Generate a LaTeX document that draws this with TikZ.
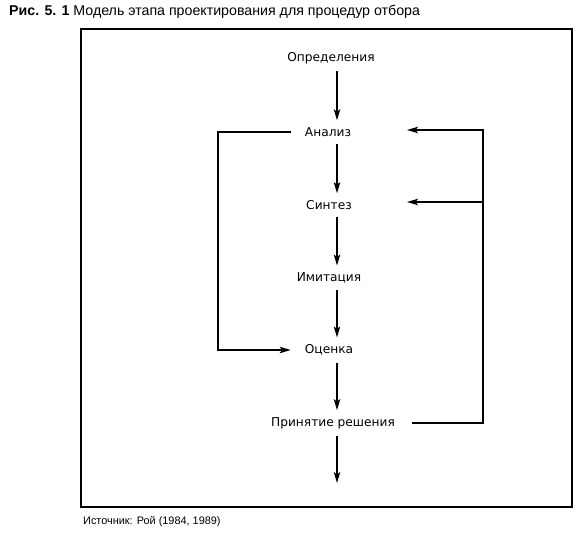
\documentclass[tikz,border=0pt]{standalone}
\usepackage{fontspec}
\setmainfont{Liberation Sans}
\newfontfamily\lblfont{DejaVu Sans}
\usetikzlibrary{arrows.meta}
\tikzset{
  lbl/.style={font=\lblfont\fontsize{12.2}{14}\selectfont, inner xsep=0pt, inner ysep=5pt},
  line/.style={line width=1.4pt, line join=miter},
  arr/.style={line width=1.4pt, line join=miter, -{Stealth[length=11pt,width=6.5pt,inset=2.5pt]}},
}
\begin{document}
\begin{tikzpicture}[x=1pt,y=-1pt]
\useasboundingbox (0,0) rectangle (580,532);
\fill[white] (0,0) rectangle (580,532);
% title
\node[anchor=west, inner sep=0pt, font=\fontsize{14.2}{16}\selectfont] (title) at (9,12) {\textbf{Рис. 5. 1} Модель этапа проектирования для процедур отбора};
% frame
\draw[line width=1.2pt] (81,29) rectangle (572,507);
% nodes
\node[lbl] (def) at (331,58) {Определения};
\node[lbl] (an) at (328,132) {Анализ};
\node[lbl] (syn) at (329,205) {Синтез};
\node[lbl] (im) at (329,278) {Имитация};
\node[lbl] (oc) at (329,350) {Оценка};
\node[lbl] (pr) at (333,423) {Принятие решения};
% helper coordinates
\coordinate (ax) at (337,0);
\coordinate (L) at (218,0);
\coordinate (R) at (483,0);
\coordinate (aR) at (407,130);
\coordinate (sR) at (407,202);
\coordinate (out) at (337,483);
% main chain
\draw[arr, shorten <=2pt, shorten >=2pt] (def.south -| ax) -- (an.north -| ax);
\draw[arr, shorten <=2pt, shorten >=2pt] (an.south -| ax) -- (syn.north -| ax);
\draw[arr, shorten <=2pt, shorten >=2pt] (syn.south -| ax) -- (im.north -| ax);
\draw[arr, shorten <=2pt, shorten >=2pt] (im.south -| ax) -- (oc.north -| ax);
\draw[arr, shorten <=2pt, shorten >=2pt] (oc.south -| ax) -- (pr.north -| ax);
\draw[arr, shorten <=2pt] (pr.south -| ax) -- (out);
% left loop
\draw[arr, shorten <=14pt, shorten >=14pt] (an.west) -- (an.west -| L) -- (oc.west -| L) -- (oc.west);
% right loop
\draw[arr, shorten <=17pt] (pr.east) -| (R |- aR) -- (aR);
\draw[arr] (R |- sR) -- (sR);
% source
\node[anchor=west, inner sep=0pt, font=\fontsize{10.9}{12}\selectfont] (src) at (83,522) {Источник: Рой (1984, 1989)};
\end{tikzpicture}
\end{document}
